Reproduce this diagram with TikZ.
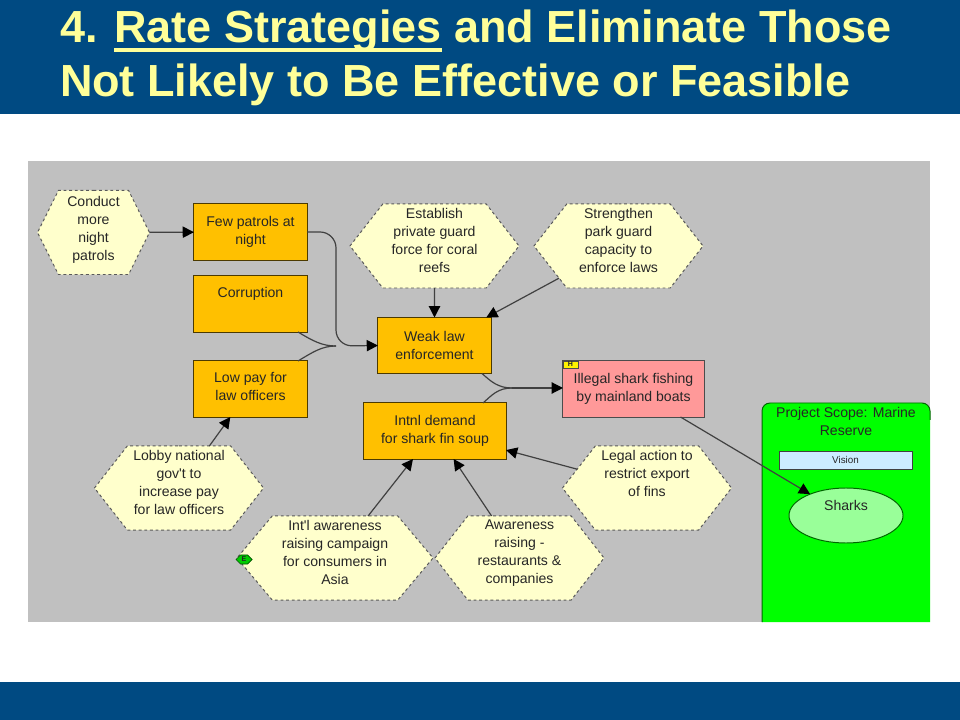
\documentclass[tikz,border=0pt]{standalone}
\usepackage{fontspec}
\setmainfont{Liberation Sans}
\definecolor{band}{HTML}{004A82}
\definecolor{titletext}{HTML}{FFFF99}
\definecolor{panel}{HTML}{C0C0C0}
\definecolor{factor}{HTML}{FFC000}
\definecolor{threat}{HTML}{FF9999}
\definecolor{strategy}{HTML}{FFFFCC}
\definecolor{scope}{HTML}{00FF00}
\definecolor{target}{HTML}{99FF99}
\definecolor{vision}{HTML}{CCECFF}
\definecolor{edge}{HTML}{404040}
\usetikzlibrary{arrows.meta}
\usetikzlibrary{positioning}
\usetikzlibrary{shapes.geometric}
\usetikzlibrary{shapes.symbols}
\newcommand*{\lift}[1]{\\[#1]\mbox{}}
\newcommand*{\thickline}[1]{\vtop{\hbox{#1}\kern-3.2pt\hrule height 3pt}}
\tikzstyle{base}=[inner sep=0pt, outer sep=0pt, x=0.025cm, y=-0.025cm, font=\fontsize{10}{12.8}\selectfont, align=center, text=black!85]
\tikzstyle{factorbox}=[draw=black!70!factor, fill=factor, line width=0.7pt, minimum width=2.825cm, minimum height=1.4cm]
\tikzstyle{hexa}=[signal, signal to=west and east, signal pointer angle=104, draw=black!65, fill=strategy, dash pattern=on 2pt off 2pt, line width=0.7pt, minimum width=4.225cm, minimum height=2.1cm]
\tikzstyle{link}=[draw=edge, line width=0.85pt, -{Triangle[length=8pt,width=8pt,color=black]}]
\tikzstyle{feeder}=[draw=edge, line width=0.85pt]

\begin{document}
\begin{tikzpicture}[base]
    \path [use as bounding box] (0,0) rectangle (960,720);
    % bands
    \fill [band] (0,0) rectangle (960,114);
    \fill [band] (0,682) rectangle (960,720);
    \node [anchor=north west, text=titletext, align=left, font=\fontsize{32}{38}\bfseries] (heading) at (60,10)
        {4. \thickline{Rate Strategies} and Eliminate Those\\Not Likely to Be Effective or Feasible};
    \fill [panel] (28,161) rectangle (930,622);
    % project scope
    \fill [scope, rounded corners=0.2cm] (762,622) -- (762,403) -- (930,403) -- (930,622);
    \draw [draw=black!60!scope, line width=0.7pt, rounded corners=0.2cm] (762,622) -- (762,403) -- (930,403) -- (930,420);
    \node (scopetitle) at (846,421) {Project Scope: Marine\\Reserve};
    \node [draw=edge, fill=vision, line width=0.7pt, minimum width=3.325cm, minimum height=0.45cm, font=\fontsize{7}{9}\selectfont] (vision) at (845.5,460) {Vision};
    \node [ellipse, draw=black!60!scope, fill=target, line width=0.7pt, minimum width=2.85cm, minimum height=1.375cm] (sharks) at (846,515.5) {Sharks\lift{2pt}};
    % factors
    \node [factorbox] (patrols) at (250.5,232) {Few patrols at\\night};
    \node [factorbox] (corruption) at (250.5,304) {Corruption\lift{4pt}};
    \node [factorbox] (lowpay) at (250.5,389) {Low pay for\\law officers\lift{-8.6pt}};
    \node [factorbox] (weak) at (434.5,345.5) {Weak law\\enforcement};
    \node [factorbox, minimum width=3.55cm] (demand) at (435,431) {Intnl demand\\for shark fin soup};
    \node [factorbox, fill=threat, draw=black!70, minimum width=3.525cm] (illegal) at (633.5,389) {Illegal shark fishing\\by mainland boats};
    \node [draw=black!70, fill=yellow, line width=0.5pt, minimum width=0.375cm, minimum height=0.175cm, font=\fontsize{5}{5}\bfseries, anchor=north west] (tagrisk) at (illegal.north west) {H};
    % strategies
    \node [hexa, minimum width=2.8cm, signal pointer angle=127] (conduct) at (93.5,232.5) {Conduct\\more\\night\\patrols\lift{-7pt}};
    \node [hexa] (guard) at (434.5,246) {Establish\\private guard\\force for coral\\reefs\lift{-5pt}};
    \node [hexa] (capacity) at (618.5,246) {Strengthen\\park guard\\capacity to\\enforce laws\lift{-5pt}};
    \node [hexa] (lobby) at (179,488) {Lobby national\\gov\textquotesingle t to\\increase pay\\for law officers\lift{-4.4pt}};
    \node [hexa, minimum width=4.9cm, signal pointer angle=100] (campaign) at (335,558) {Int\textquotesingle l awareness\\raising campaign\\for consumers in\\Asia\lift{-4.4pt}};
    \node [hexa] (raising) at (519.5,558) {Awareness\\raising -\\restaurants \&\\companies\lift{-4.4pt}};
    \node [hexa] (legal) at (647,488) {Legal action to\\restrict export\\of fins\\\mbox{}\lift{-4.4pt}};
    \node [signal, signal to=west and east, draw=black!70!green, fill=green!80!black, line width=0.5pt, minimum width=0.4cm, minimum height=0.225cm, font=\fontsize{5}{5}\bfseries] (tagstep) at (244,559.5) {E};
    % joins
    \coordinate (joinweak) at (336,346);
    \coordinate (joinill) at (512,388);
    % connectors
    \draw [link] (conduct) -- (patrols);
    \draw [link] (guard) -- (weak);
    \draw [link] (capacity) -- (weak);
    \draw [link] (lobby) -- (lowpay);
    \draw [link] (campaign) -- (demand);
    \draw [link] (raising) -- (demand);
    \draw [link] (legal) -- (demand);
    \draw [link] (illegal) -- (sharks);
    \draw [link, rounded corners=0.4cm] (patrols.east) -| (joinweak) -- (weak.west);
    \draw [feeder] (corruption.south east) ++(-9,0) .. controls +(15,9) and +(-14,0) .. (joinweak);
    \draw [feeder] (lowpay.north east) ++(-9,0) .. controls +(15,-9) and +(-14,0) .. (joinweak);
    \draw [link] (joinill) -- (illegal.west |- joinill);
    \draw [feeder] (weak.south east) ++(-9,0) .. controls +(9,8) and +(-14,0) .. (joinill);
    \draw [feeder] (demand.north east) ++(-23,0) .. controls +(9,-8) and +(-14,0) .. (joinill);
\end{tikzpicture}
\end{document}
